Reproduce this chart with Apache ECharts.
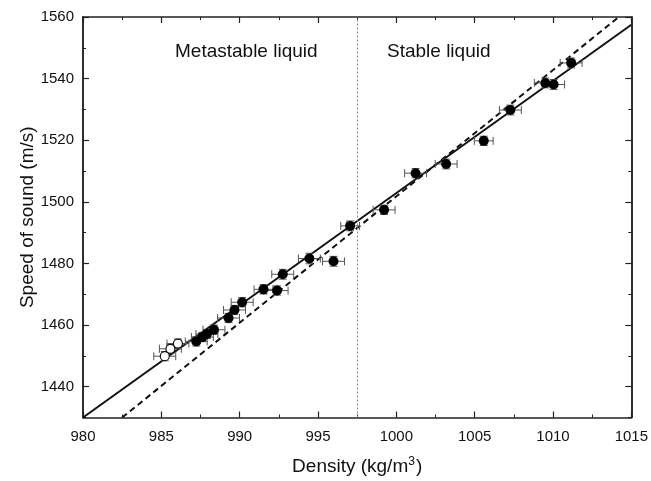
<!DOCTYPE html>
<html>
<head>
<meta charset="utf-8">
<script src="https://cdn.jsdelivr.net/npm/echarts@6/dist/echarts.min.js"></script>
<style>
  html, body { margin: 0; padding: 0; background: #fff; }
  #main { width: 651px; height: 481px; }
</style>
</head>
<body>
<div id="main"></div>
<script>
// stable + metastable points (filled)
var density = [1011.16, 1009.51, 1010.04, 1007.28, 1005.58, 1003.18, 1001.23, 999.22, 997.05,
  994.45, 995.99, 992.75, 991.52, 992.39, 990.16, 989.67, 989.29, 988.36, 987.91, 987.62, 987.23];
var speed = [1545.1, 1538.6, 1538.1, 1529.8, 1519.8, 1512.3, 1509.3, 1497.4, 1492.2,
  1481.6, 1480.7, 1476.5, 1471.6, 1471.2, 1467.4, 1464.9, 1462.3, 1458.5, 1457.1, 1456.1, 1454.7];
var densErr = [0.7, 0.7, 0.7, 0.7, 0.6, 0.7, 0.7, 0.7, 0.6,
  0.7, 0.7, 0.7, 0.6, 0.7, 0.7, 0.7, 0.7, 0.7, 0.7, 0.7, 0.7];
var speedErr = [1.6, 1.6, 1.6, 1.6, 1.5, 1.6, 1.5, 1.5, 1.6,
  1.7, 1.6, 1.6, 1.5, 1.5, 1.5, 1.5, 1.5, 1.5, 1.5, 1.5, 1.5];

// lowest-temperature points (open)
var densOpen = [985.22, 985.58, 986.06];
var speedOpen = [1449.9, 1452.3, 1454.0];
var densErrOpen = [0.7, 0.7, 0.7];
var speedErrOpen = [1.5, 1.5, 1.5];

// fit lines (end points)
var solidFit = [[980, 1430], [1015, 1557.5]];
var dashFit = [[982.5, 1430], [1014.2, 1560]];
var boundary = 997.5;

var yTicks = [1440, 1460, 1480, 1500, 1520, 1540, 1560];
var yMinor = [1430, 1450, 1470, 1490, 1510, 1530, 1550];

function zip(a, b, c, d) {
  return a.map(function (v, i) { return [v, b[i], c[i], d[i]]; });
}
var filled = zip(density, speed, densErr, speedErr);
var open = zip(densOpen, speedOpen, densErrOpen, speedErrOpen);

function errorBars(params, api) {
  var x = api.value(0), y = api.value(1), ex = api.value(2), ey = api.value(3);
  var l = api.coord([x - ex, y]), r = api.coord([x + ex, y]);
  var t = api.coord([x, y + ey]), b = api.coord([x, y - ey]);
  var c = 4;
  var st = { stroke: '#555', lineWidth: 1 };
  return {
    type: 'group',
    children: [
      { type: 'line', shape: { x1: l[0], y1: l[1], x2: r[0], y2: r[1] }, style: st },
      { type: 'line', shape: { x1: l[0], y1: l[1] - c, x2: l[0], y2: l[1] + c }, style: st },
      { type: 'line', shape: { x1: r[0], y1: r[1] - c, x2: r[0], y2: r[1] + c }, style: st },
      { type: 'line', shape: { x1: t[0], y1: t[1], x2: b[0], y2: b[1] }, style: st },
      { type: 'line', shape: { x1: t[0] - c, y1: t[1], x2: t[0] + c, y2: t[1] }, style: st },
      { type: 'line', shape: { x1: b[0] - c, y1: b[1], x2: b[0] + c, y2: b[1] }, style: st }
    ]
  };
}

var font = 'Liberation Sans';
var axisLine = { show: true, lineStyle: { color: '#222', width: 1.5 } };
var majorTick = { show: true, inside: true, length: 6, lineStyle: { color: '#222', width: 1.2 } };
var minorTick = { show: true, splitNumber: 2, length: 3, lineStyle: { color: '#222', width: 1 } };
var plain = function (v) { return String(v); };

function yAxisDef(pos, ticks, len, labels) {
  return {
    type: 'value', position: pos, min: 1430, max: 1560,
    axisLine: axisLine,
    axisTick: { show: true, inside: true, length: len, customValues: ticks, lineStyle: { color: '#222', width: len > 4 ? 1.2 : 1 } },
    splitLine: { show: false },
    axisLabel: labels ? { color: '#111', fontSize: 15, fontFamily: font, margin: 9, customValues: yTicks, formatter: plain } : { show: false }
  };
}

var chart = echarts.init(document.getElementById('main'));
var option = {
  animation: false,
  grid: { left: 83, right: 18, top: 17, bottom: 61 },
  xAxis: [{
    type: 'value', min: 980, max: 1015, interval: 5,
    axisLine: axisLine, axisTick: majorTick,
    minorTick: minorTick,
    splitLine: { show: false },
    axisLabel: { color: '#111', fontSize: 15, fontFamily: font, margin: 12, formatter: plain },
    name: 'Density (kg/m{sup|3})', nameLocation: 'middle', nameGap: 38,
    nameTextStyle: {
      color: '#111', fontSize: 19, fontFamily: font,
      rich: { sup: { fontSize: 12, verticalAlign: 'top', padding: [0, 1, 10, 0], fontFamily: font, color: '#111' } }
    }
  }, {
    type: 'value', position: 'top', min: 980, max: 1015, interval: 5,
    axisLine: axisLine, axisTick: majorTick, minorTick: minorTick,
    axisLabel: { show: false }, splitLine: { show: false }
  }],
  yAxis: [
    Object.assign(yAxisDef('left', yTicks, 6, true), {
      name: 'Speed of sound (m/s)', nameLocation: 'middle', nameGap: 46, nameRotate: 90,
      nameMoveOverlap: false,
      nameTextStyle: { color: '#111', fontSize: 19, fontFamily: font }
    }),
    yAxisDef('right', yTicks, 6, false),
    yAxisDef('left', yMinor, 3, false),
    yAxisDef('right', yMinor, 3, false)
  ],
  graphic: [
    { type: 'text', left: 175, top: 42, style: { text: 'Metastable liquid', fontSize: 19, fontFamily: font, fill: '#111' } },
    { type: 'text', left: 387, top: 42, style: { text: 'Stable liquid', fontSize: 19, fontFamily: font, fill: '#111' } }
  ],
  series: [
    {
      type: 'line', data: dashFit, showSymbol: false, symbol: 'none', z: 2,
      lineStyle: { color: '#111', width: 2, type: [6, 4] },
      markLine: {
        silent: true, symbol: 'none', label: { show: false },
        lineStyle: { color: '#888', type: [2, 2], width: 1 },
        data: [{ xAxis: boundary }]
      }
    },
    {
      type: 'line', data: solidFit, showSymbol: false, symbol: 'none', z: 2,
      lineStyle: { color: '#111', width: 2 }
    },
    { type: 'custom', renderItem: errorBars, data: open, z: 3 },
    { type: 'custom', renderItem: errorBars, data: filled, z: 3 },
    {
      type: 'scatter', data: open, symbolSize: 9, z: 4,
      itemStyle: { color: '#fff', borderColor: '#111', borderWidth: 1.2, opacity: 1 }
    },
    {
      type: 'scatter', data: filled, symbolSize: 10, z: 4,
      itemStyle: { color: '#000', opacity: 1 }
    }
  ]
};
chart.setOption(option);
</script>
</body>
</html>
